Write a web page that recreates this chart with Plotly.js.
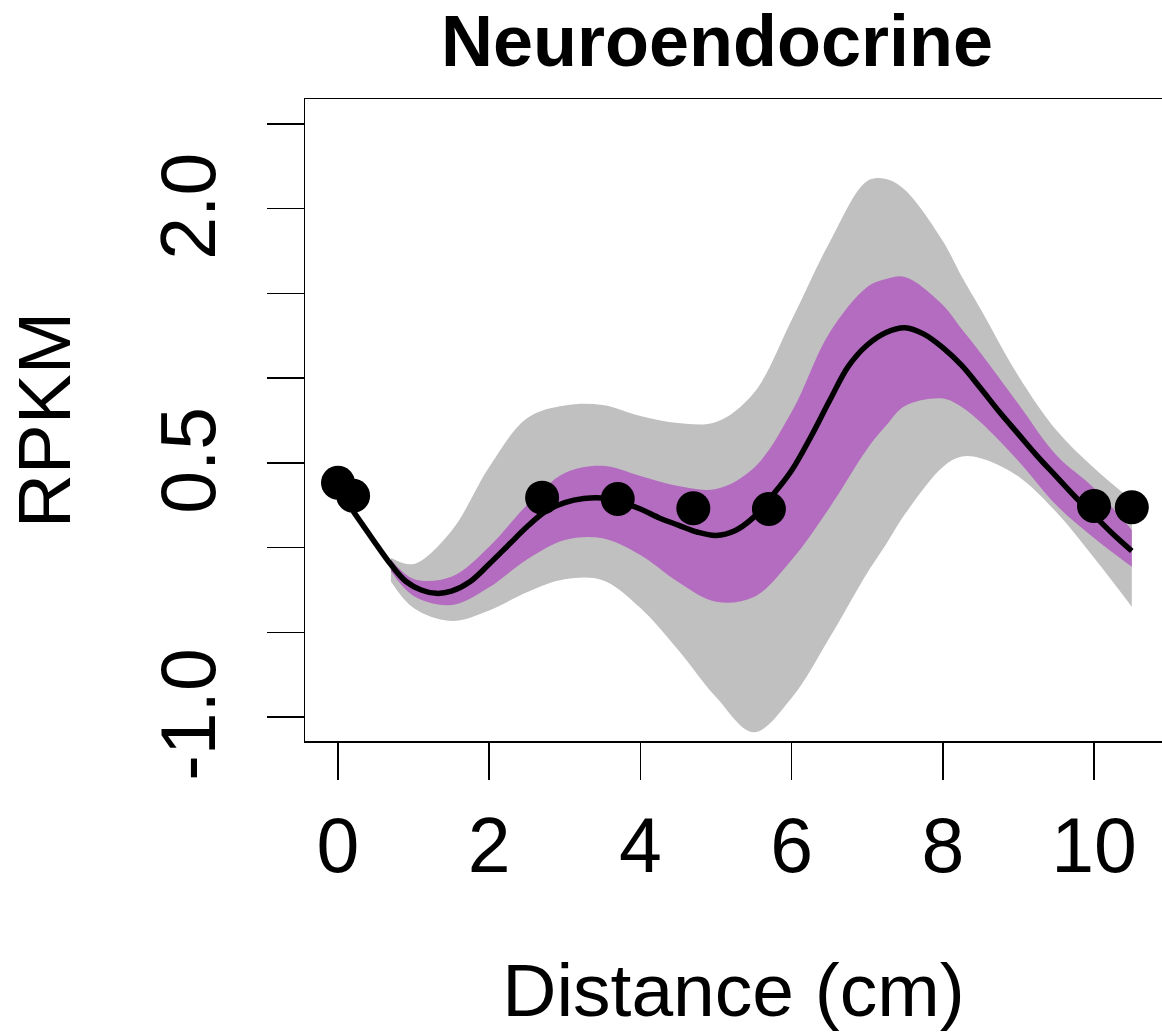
<!DOCTYPE html>
<html>
<head>
<meta charset="utf-8">
<script src="https://cdn.plot.ly/plotly-3.0.1.min.js"></script>
<style>
  html, body { margin: 0; padding: 0; background: #ffffff; }
  #chart { width: 1162px; height: 1034px; }
</style>
</head>
<body>
<div id="chart"></div>
<script>
// Observed expression along the tissue
const distance = [0, 0.2, 2.7, 3.7, 4.7, 5.7, 10.0, 10.5];
const rpkm = [0.383, 0.306, 0.295, 0.287, 0.232, 0.228, 0.246, 0.238];

// Fitted mean curve
const fitX = [0.2, 0.45, 0.7, 0.9, 1.1, 1.3, 1.5, 1.75, 2.0, 2.25, 2.5, 2.75, 3.0, 3.25, 3.5, 3.75,
  4.0, 4.25, 4.5, 4.75, 5.0, 5.25, 5.5, 5.75, 6.0, 6.25, 6.5, 6.75, 7.0, 7.25, 7.5, 7.75,
  8.0, 8.25, 8.5, 8.75, 9.0, 9.25, 9.5, 9.75, 10.0, 10.25, 10.5];
const fitMean = [0.215, 0.055, -0.10, -0.20, -0.25, -0.27, -0.257, -0.20, -0.097, 0.013, 0.123, 0.215,
  0.266, 0.29, 0.293, 0.268, 0.228, 0.175, 0.133, 0.092, 0.072, 0.10, 0.18, 0.31, 0.455, 0.65, 0.865,
  1.07, 1.196, 1.27, 1.298, 1.26, 1.18, 1.075, 0.94, 0.80, 0.67, 0.54, 0.42, 0.30, 0.19, 0.08, -0.02];

// Confidence bands
const bandX = [0.7, 1.0, 1.5, 2.0, 2.5, 3.0, 3.5, 4.0, 4.5, 5.0, 5.5, 6.0, 6.5, 7.0, 7.25, 7.5,
  8.0, 8.25, 8.5, 9.0, 9.5, 10.0, 10.5];
const innerUpper = [-0.07, -0.185, -0.172, 0.005, 0.251, 0.441, 0.483, 0.423, 0.364, 0.346, 0.470,
  0.80, 1.267, 1.538, 1.585, 1.597, 1.432, 1.29, 1.149, 0.848, 0.547, 0.352, 0.104];
const innerLower = [-0.14, -0.286, -0.339, -0.234, -0.070, 0.045, 0.055, -0.044, -0.203, -0.320, -0.292,
  -0.073, 0.234, 0.582, 0.72, 0.836, 0.88, 0.83, 0.74, 0.511, 0.251, 0.057, -0.113];
const outerUpper = [-0.06, -0.097, 0.098, 0.476, 0.764, 0.839, 0.842, 0.777, 0.735, 0.741, 0.913,
  1.343, 1.80, 2.164, 2.175, 2.11, 1.81, 1.60, 1.408, 1.013, 0.694, 0.470, 0.281];
const outerLower = [-0.20, -0.357, -0.433, -0.371, -0.263, -0.187, -0.192, -0.356, -0.604, -0.882, -1.09,
  -0.888, -0.534, -0.150, 0.02, 0.198, 0.476, 0.537, 0.527, 0.42, 0.21, -0.06, -0.349];

// Axis ticks
const xTicks = [0, 2, 4, 6, 8, 10];
const yTicks = [-1.0, -0.5, 0.0, 0.5, 1.0, 1.5, 2.0, 2.5];
const yTickText = ['-1.0', '', '', '0.5', '', '', '2.0', ''];

const FONT = '"Liberation Sans", Arial, Helvetica, sans-serif';
const GREY = 'rgb(192,192,192)';
const PURPLE = 'rgb(180,108,192)';

const traces = [
  { x: bandX, y: outerLower, type: 'scatter', mode: 'lines',
    line: { width: 0, shape: 'spline', smoothing: 1 }, hoverinfo: 'skip', showlegend: false },
  { x: bandX, y: outerUpper, type: 'scatter', mode: 'lines', fill: 'tonexty', fillcolor: GREY,
    line: { width: 0, shape: 'spline', smoothing: 1 }, hoverinfo: 'skip', showlegend: false },
  { x: bandX, y: innerLower, type: 'scatter', mode: 'lines',
    line: { width: 0, shape: 'spline', smoothing: 1 }, hoverinfo: 'skip', showlegend: false },
  { x: bandX, y: innerUpper, type: 'scatter', mode: 'lines', fill: 'tonexty', fillcolor: PURPLE,
    line: { width: 0, shape: 'spline', smoothing: 1 }, hoverinfo: 'skip', showlegend: false },
  { x: fitX, y: fitMean, type: 'scatter', mode: 'lines',
    line: { color: '#000000', width: 5.5, shape: 'spline', smoothing: 1 }, showlegend: false },
  { x: distance, y: rpkm, type: 'scatter', mode: 'markers',
    marker: { color: '#000000', size: 34 }, showlegend: false }
];

const layout = {
  width: 1162, height: 1034,
  margin: { l: 305, r: 0, t: 99, b: 293, pad: 0 },
  paper_bgcolor: '#ffffff', plot_bgcolor: '#ffffff',
  font: { family: FONT, color: '#000000', size: 75 },
  title: {
    text: '<b>Neuroendocrine</b>',
    font: { family: FONT, size: 72, color: '#000000' },
    xref: 'container', yref: 'container',
    x: 717 / 1162, xanchor: 'center',
    y: 1 - 41 / 1034, yanchor: 'middle'
  },
  xaxis: {
    range: [-0.4365, 10.8995],
    tickvals: xTicks, ticktext: xTicks.map(String),
    ticks: 'outside', ticklen: 37, tickwidth: 1.5, tickcolor: '#000000',
    showline: true, linewidth: 1.5, linecolor: '#000000', mirror: true,
    showgrid: false, zeroline: false,
    tickfont: { family: FONT, size: 77, color: '#000000' },
    title: { text: 'Distance (cm)', font: { family: FONT, size: 75, color: '#000000' }, standoff: 76 }
  },
  yaxis: {
    range: [-1.1414, 2.6477],
    tickvals: yTicks, ticktext: yTickText, tickangle: -90,
    ticklabelstandoff: 21, ticklabelshift: 9,
    ticks: 'outside', ticklen: 37, tickwidth: 1.5, tickcolor: '#000000',
    showline: true, linewidth: 1.5, linecolor: '#000000', mirror: false,
    showgrid: false, zeroline: false,
    tickfont: { family: FONT, size: 77, color: '#000000' },
    title: { text: 'RPKM', font: { family: FONT, size: 75, color: '#000000' }, standoff: 49 }
  }
};

Plotly.newPlot('chart', traces, layout, { displayModeBar: false, staticPlot: true });
</script>
</body>
</html>
